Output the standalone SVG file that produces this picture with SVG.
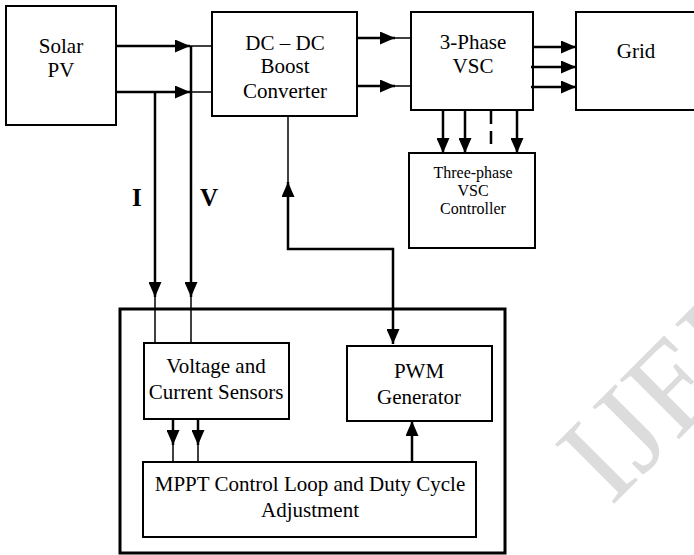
<svg xmlns="http://www.w3.org/2000/svg" width="694" height="555" viewBox="0 0 694 555">
<style>
.box{fill:none;stroke:#000;stroke-width:2}
.outer{fill:none;stroke:#000;stroke-width:3}
.t{font-family:"Liberation Serif","Times New Roman",serif;font-size:21px;fill:#000;text-anchor:middle}
.ts{font-family:"Liberation Serif","Times New Roman",serif;font-size:16px;fill:#000;text-anchor:middle}
.tb{font-family:"Liberation Serif","Times New Roman",serif;font-size:25px;font-weight:bold;fill:#000}
.thick{fill:none;stroke:#000;stroke-width:2.5}
.thin{fill:none;stroke:#000;stroke-width:1.5}
.arr{marker-end:url(#ah)}
.wm{font-family:"Liberation Serif","Times New Roman",serif;font-size:128px;fill:#dcdcdc}
</style>
<defs>
<marker id="ah" viewBox="0 0 15 13" refX="15" refY="6.5" markerWidth="15" markerHeight="13" markerUnits="userSpaceOnUse" orient="auto-start-reverse">
<path d="M0,0 L15,6.5 L0,13 Z" fill="#000"/>
</marker>
</defs>
<text class="wm" transform="translate(611,507) rotate(-45)">IJERT</text>
<g id="solar-pv"><rect class="box" x="6" y="6" width="110" height="119"/><text class="t" x="61" y="53">Solar</text><text class="t" x="61" y="77">PV</text></g>
<g id="dc-dc"><rect class="box" x="212" y="12" width="145" height="104"/><text class="t" x="285" y="50">DC – DC</text><text class="t" x="285" y="73">Boost</text><text class="t" x="285" y="98">Converter</text></g>
<g id="vsc"><rect class="box" x="411" y="12" width="122" height="98"/><text class="t" x="473" y="49">3-Phase</text><text class="t" x="473" y="73">VSC</text></g>
<g id="grid"><rect class="box" x="576" y="12" width="140" height="98"/><text class="t" x="636" y="58">Grid</text></g>
<g id="vsc-controller"><rect class="box" x="409" y="153" width="126" height="95"/><text class="ts" x="473" y="178">Three-phase</text><text class="ts" x="473" y="196">VSC</text><text class="ts" x="473" y="214">Controller</text></g>
<g id="control-unit"><rect class="outer" x="120" y="309" width="385" height="244"/></g>
<g id="sensors"><rect class="box" x="144" y="343" width="145" height="76"/><text class="t" x="216" y="373">Voltage and</text><text class="t" x="216" y="399">Current Sensors</text></g>
<g id="pwm"><rect class="box" x="347" y="346" width="145" height="75"/><text class="t" x="419" y="378">PWM</text><text class="t" x="419" y="404">Generator</text></g>
<g id="mppt"><rect class="box" x="143" y="462" width="333" height="75"/><text class="t" x="310" y="491">MPPT Control Loop and Duty Cycle</text><text class="t" x="310" y="517">Adjustment</text></g>
<g id="labels"><text class="tb" x="132" y="206">I</text><text class="tb" x="200" y="206">V</text></g>
<g id="connectors">
<line class="thick arr" x1="116" y1="46" x2="190" y2="46"/><line class="thin" x1="190" y1="46" x2="212" y2="46"/>
<line class="thick arr" x1="116" y1="92" x2="190" y2="92"/><line class="thin" x1="190" y1="92" x2="212" y2="92"/>
<line class="thick arr" x1="155" y1="92" x2="155" y2="297"/><line class="thin" x1="155" y1="297" x2="155" y2="343"/>
<line class="thick arr" x1="191" y1="46" x2="191" y2="297"/><line class="thin" x1="191" y1="297" x2="191" y2="343"/>
<line class="thick arr" x1="357" y1="38" x2="395" y2="38"/><line class="thin" x1="395" y1="38" x2="411" y2="38"/>
<line class="thick arr" x1="357" y1="86" x2="395" y2="86"/><line class="thin" x1="395" y1="86" x2="411" y2="86"/>
<line class="thick arr" x1="533" y1="47" x2="576" y2="47"/>
<line class="thick arr" x1="531" y1="67" x2="576" y2="67"/>
<line class="thick arr" x1="531" y1="87" x2="576" y2="87"/>
<line class="thick arr" x1="443" y1="110" x2="443" y2="153"/>
<line class="thick arr" x1="465" y1="110" x2="465" y2="153"/>
<line class="thick" x1="491" y1="111" x2="491" y2="147" stroke-dasharray="13,7"/>
<line class="thick arr" x1="517" y1="110" x2="517" y2="153"/>
<line class="thin" x1="288" y1="116" x2="288" y2="182"/>
<path class="thick" d="M288,182 V249 H393 V344" marker-start="url(#ah)" marker-end="url(#ah)"/>
<line class="thick arr" x1="173" y1="419" x2="173" y2="445"/><line class="thin" x1="173" y1="445" x2="173" y2="462"/>
<line class="thick arr" x1="198" y1="419" x2="198" y2="445"/><line class="thin" x1="198" y1="445" x2="198" y2="462"/>
<line class="thick arr" x1="412" y1="462" x2="412" y2="421"/>
</g>
</svg>
